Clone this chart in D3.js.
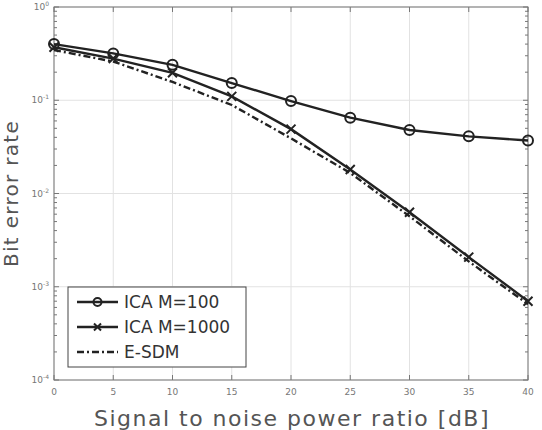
<!DOCTYPE html>
<html><head><meta charset="utf-8">
<script src="https://cdn.jsdelivr.net/npm/d3@7"></script>
<style>body{margin:0;background:#fff}svg{display:block}</style>
</head><body>
<svg id="c" width="542" height="430"></svg>
<script>
const snr = [0, 5, 10, 15, 20, 25, 30, 35, 40];
const icaM100 = [0.40, 0.318, 0.24, 0.153, 0.098, 0.065, 0.048, 0.041, 0.037];
const icaM1000 = [0.37, 0.28, 0.197, 0.11, 0.049, 0.0181, 0.0063, 0.00208, 0.0007];
const esdm = [0.345, 0.26, 0.157, 0.089, 0.039, 0.0166, 0.0057, 0.00187, 0.00065];
const xTicks = [0, 5, 10, 15, 20, 25, 30, 35, 40];
const yExps = [0, -1, -2, -3, -4];
const seriesNames = ["ICA M=100", "ICA M=1000", "E-SDM"];

const svg = d3.select("#c");
const L = 54, R = 528, T = 7, B = 380;
const x = d3.scaleLinear().domain([0, 40]).range([L, R]);
const y = d3.scaleLog().domain([1e-4, 1]).range([B, T]);
const font = "'DejaVu Sans',sans-serif";
const gridC = "#e2e2e2", axC = "#777", lineC = "#222";

// grid
const g = svg.append("g");
xTicks.forEach(t => g.append("line").attr("x1", x(t)).attr("x2", x(t)).attr("y1", T).attr("y2", B).attr("stroke", gridC).attr("stroke-width", 1));
yExps.forEach(e => g.append("line").attr("x1", L).attr("x2", R).attr("y1", y(Math.pow(10, e))).attr("y2", y(Math.pow(10, e))).attr("stroke", gridC).attr("stroke-width", 1));

// axes box
svg.append("rect").attr("x", L).attr("y", T).attr("width", R - L).attr("height", B - T).attr("fill", "none").attr("stroke", axC).attr("stroke-width", 1);

// x ticks inside (bottom & top)
xTicks.forEach(t => {
  svg.append("line").attr("x1", x(t)).attr("x2", x(t)).attr("y1", B).attr("y2", B - 5).attr("stroke", axC);
  svg.append("line").attr("x1", x(t)).attr("x2", x(t)).attr("y1", T).attr("y2", T + 5).attr("stroke", axC);
  svg.append("text").attr("x", x(t)).attr("y", B + 15).attr("text-anchor", "middle")
    .attr("font-family", font).attr("font-size", 9).attr("fill", "#777").text(t);
});

// y ticks major & minor
for (let e = -4; e <= 0; e++) {
  const v = Math.pow(10, e);
  svg.append("line").attr("x1", L).attr("x2", L + 5).attr("y1", y(v)).attr("y2", y(v)).attr("stroke", axC);
  svg.append("line").attr("x1", R).attr("x2", R - 5).attr("y1", y(v)).attr("y2", y(v)).attr("stroke", axC);
  const tx = svg.append("text").attr("x", L - 5).attr("y", y(v) + 3).attr("text-anchor", "end")
    .attr("font-family", font).attr("font-size", 9).attr("fill", "#777");
  tx.append("tspan").text("10");
  tx.append("tspan").attr("dy", -4).attr("font-size", 6).text(e);
  if (e < 0) {
    for (let m = 2; m <= 9; m++) {
      const mv = m * v;
      svg.append("line").attr("x1", L).attr("x2", L + 3).attr("y1", y(mv)).attr("y2", y(mv)).attr("stroke", axC);
      svg.append("line").attr("x1", R).attr("x2", R - 3).attr("y1", y(mv)).attr("y2", y(mv)).attr("stroke", axC);
    }
  }
}

const line = d3.line().x(d => x(d[0])).y(d => y(d[1]));
const series = [icaM100, icaM1000, esdm];
const dashes = [null, null, "7,3,2,3"];
series.forEach((s, i) => {
  const pts = snr.map((v, j) => [v, s[j]]);
  const p = svg.append("path").datum(pts).attr("d", line).attr("fill", "none")
    .attr("stroke", lineC).attr("stroke-width", 2.4);
  if (dashes[i]) p.attr("stroke-dasharray", dashes[i]);
});
// markers
function circleMarker(cx, cy, r) {
  svg.append("circle").attr("cx", cx).attr("cy", cy).attr("r", r).attr("fill", "none").attr("stroke", lineC).attr("stroke-width", 2);
}
function xMarker(cx, cy, r) {
  svg.append("path").attr("d", `M${cx - r},${cy - r}L${cx + r},${cy + r}M${cx - r},${cy + r}L${cx + r},${cy - r}`)
    .attr("stroke", lineC).attr("stroke-width", 2).attr("fill", "none");
}
snr.forEach((v, j) => circleMarker(x(v), y(icaM100[j]), 5));
snr.forEach((v, j) => xMarker(x(v), y(icaM1000[j]), 4.5));

// legend
const lg = svg.append("g");
lg.append("rect").attr("x", 68).attr("y", 287).attr("width", 178).attr("height", 80).attr("fill", "#fff").attr("stroke", "#444").attr("stroke-width", 1);
const rows = [302, 327, 352];
rows.forEach((ry, i) => {
  const l = lg.append("line").attr("x1", 77).attr("x2", 118).attr("y1", ry).attr("y2", ry).attr("stroke", lineC).attr("stroke-width", 2.4);
  if (dashes[i]) l.attr("stroke-dasharray", dashes[i]);
  lg.append("text").attr("x", 124).attr("y", ry + 6).attr("font-family", font).attr("font-size", 17).attr("fill", "#333").text(seriesNames[i]);
});
(function(){ const cx = 97.5, cy = rows[0]; lg.append("circle").attr("cx", cx).attr("cy", cy).attr("r", 4).attr("fill", "none").attr("stroke", lineC).attr("stroke-width", 2); })();
(function(){ const cx = 97.5, cy = rows[1], r = 3.5; lg.append("path").attr("d", `M${cx - r},${cy - r}L${cx + r},${cy + r}M${cx - r},${cy + r}L${cx + r},${cy - r}`).attr("stroke", lineC).attr("stroke-width", 2); })();

// axis labels
svg.append("text").attr("x", (L + R) / 2 + 1).attr("y", 426).attr("text-anchor", "middle")
  .attr("font-family", font).attr("font-size", 22).attr("letter-spacing", 1.5).attr("fill", "#555").text("Signal to noise power ratio [dB]");
svg.append("text").attr("transform", `translate(18,${(T + B) / 2}) rotate(-90)`).attr("text-anchor", "middle")
  .attr("font-family", font).attr("font-size", 20).attr("letter-spacing", 1.3).attr("fill", "#555").text("Bit error rate");
</script>
</body></html>
